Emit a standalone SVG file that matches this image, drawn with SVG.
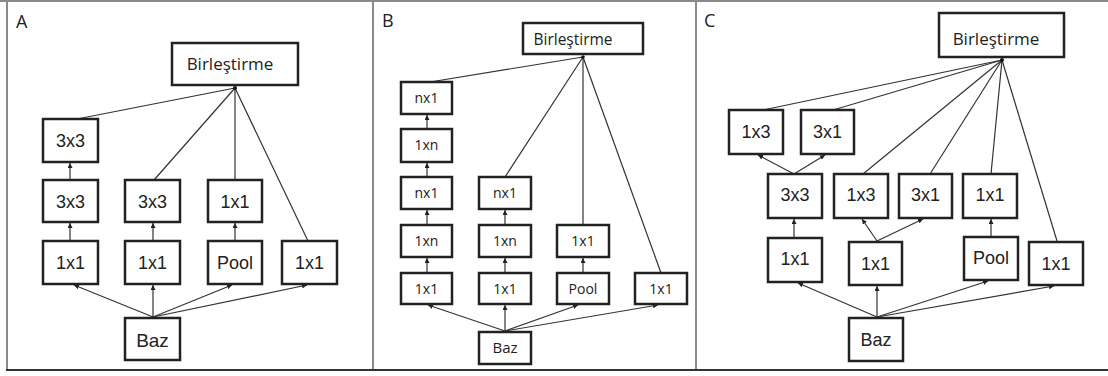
<svg xmlns="http://www.w3.org/2000/svg" width="1108" height="376" viewBox="0 0 1108 376">
<defs>
<marker id="ah" viewBox="0 0 6 6" refX="6" refY="3" markerWidth="5" markerHeight="5" orient="auto" markerUnits="userSpaceOnUse">
<path d="M0,0 L6,3 L0,6 z" fill="#222"/>
</marker>
<style>
.bx{fill:#fff;stroke:#222;stroke-width:2.5}
.fr{stroke:#8a8a8a;stroke-width:2;fill:none}
.c{stroke:#333;stroke-width:1.2;fill:none}
.a{stroke:#333;stroke-width:1.2;fill:none;marker-end:url(#ah)}
.t{font-family:"Liberation Sans",Arial,sans-serif;font-size:18px;fill:#222;text-anchor:middle}
.tb{font-family:"Open Sans","Liberation Sans",sans-serif;font-size:14px;fill:#222;text-anchor:middle}
.h{font-family:"Open Sans","Liberation Sans",sans-serif;font-size:17px;fill:#222;text-anchor:middle}
.hb{font-family:"Open Sans","Liberation Sans",sans-serif;font-size:15.5px;fill:#222;text-anchor:middle}
.lab{font-family:"Open Sans","Liberation Sans",sans-serif;font-size:18px;fill:#222}
</style>
</defs>
<rect width="1108" height="376" fill="#fff"/>
<g id="frame">
<line class="fr" x1="0" y1="1" x2="1108" y2="1"/>
<line class="fr" x1="7" y1="1" x2="7" y2="370"/>
<line class="fr" x1="373" y1="1" x2="373" y2="370"/>
<line class="fr" x1="696" y1="1" x2="696" y2="370"/>
<line x1="6" y1="370" x2="1108" y2="370" stroke="#333" stroke-width="2"/>
</g>
<g id="labels">
<text class="lab" x="16" y="28">A</text>
<text class="lab" x="382" y="27">B</text>
<text class="lab" x="704" y="27">C</text>
</g>
<g id="connectors">
<!-- Panel A -->
<line class="a" x1="153" y1="317" x2="74" y2="285"/>
<line class="a" x1="153" y1="317" x2="153" y2="285"/>
<line class="a" x1="153" y1="317" x2="232" y2="285"/>
<line class="a" x1="153" y1="317" x2="307" y2="285"/>
<line class="a" x1="70" y1="241" x2="70" y2="223"/>
<line class="a" x1="153" y1="241" x2="153" y2="223"/>
<line class="a" x1="235" y1="241" x2="235" y2="223"/>
<line class="a" x1="70" y1="180" x2="70" y2="163"/>
<line class="c" x1="77" y1="119" x2="235" y2="88"/>
<line class="c" x1="154" y1="180" x2="235" y2="88"/>
<line class="c" x1="235" y1="180" x2="235" y2="88"/>
<line class="c" x1="308" y1="241" x2="235" y2="88"/>
<circle cx="235" cy="88" r="2" fill="#111"/>
<!-- Panel B -->
<line class="a" x1="505" y1="331" x2="428" y2="305"/>
<line class="a" x1="505" y1="331" x2="505" y2="305"/>
<line class="a" x1="505" y1="331" x2="578" y2="305"/>
<line class="a" x1="505" y1="331" x2="658" y2="305"/>
<line class="a" x1="427" y1="273" x2="427" y2="258"/>
<line class="a" x1="505" y1="273" x2="505" y2="258"/>
<line class="a" x1="583" y1="273" x2="583" y2="258"/>
<line class="a" x1="427" y1="225" x2="427" y2="210"/>
<line class="a" x1="505" y1="225" x2="505" y2="210"/>
<line class="a" x1="427" y1="177" x2="427" y2="163"/>
<line class="a" x1="427" y1="129" x2="427" y2="115"/>
<line class="c" x1="430" y1="82" x2="583" y2="57"/>
<line class="c" x1="505" y1="177" x2="583" y2="57"/>
<line class="c" x1="583" y1="225" x2="583" y2="57"/>
<line class="c" x1="661" y1="273" x2="583" y2="57"/>
<circle cx="583" cy="57" r="1.8" fill="#111"/>
<!-- Panel C -->
<line class="a" x1="877" y1="317" x2="798" y2="283"/>
<line class="a" x1="877" y1="317" x2="877" y2="286"/>
<line class="a" x1="877" y1="317" x2="988" y2="281"/>
<line class="a" x1="877" y1="317" x2="1054" y2="286"/>
<line class="a" x1="794" y1="238" x2="794" y2="219"/>
<line class="a" x1="991" y1="237" x2="991" y2="219"/>
<line class="a" x1="877" y1="241" x2="862" y2="219"/>
<line class="a" x1="877" y1="241" x2="923" y2="219"/>
<line class="a" x1="794" y1="174" x2="758" y2="155"/>
<line class="a" x1="794" y1="174" x2="825" y2="155"/>
<line class="c" x1="763" y1="110" x2="1002" y2="60"/>
<line class="c" x1="833" y1="110" x2="1002" y2="60"/>
<line class="c" x1="863" y1="174" x2="1002" y2="60"/>
<line class="c" x1="930" y1="174" x2="1002" y2="60"/>
<line class="c" x1="991" y1="174" x2="1002" y2="60"/>
<line class="c" x1="1057" y1="241" x2="1002" y2="60"/>
<circle cx="1002" cy="60" r="2" fill="#111"/>
</g>
<!-- Panel A nodes -->
<g id="A-birlestirme"><rect class="bx" x="172" y="43" width="126" height="42"/><text class="h" x="230" y="70">Birleştirme</text></g>
<g id="A-3x3-top"><rect class="bx" x="43" y="119" width="55" height="43"/><text class="t" x="70.5" y="147">3x3</text></g>
<g id="A-3x3-a"><rect class="bx" x="43" y="180" width="55" height="42"/><text class="t" x="70.5" y="208">3x3</text></g>
<g id="A-3x3-b"><rect class="bx" x="125" y="180" width="55" height="42"/><text class="t" x="152.5" y="208">3x3</text></g>
<g id="A-1x1-c"><rect class="bx" x="208" y="180" width="54" height="42"/><text class="t" x="235" y="208">1x1</text></g>
<g id="A-1x1-a"><rect class="bx" x="43" y="241" width="55" height="43"/><text class="t" x="70.5" y="269">1x1</text></g>
<g id="A-1x1-b"><rect class="bx" x="125" y="241" width="55" height="43"/><text class="t" x="152.5" y="269">1x1</text></g>
<g id="A-pool"><rect class="bx" x="208" y="241" width="54" height="43"/><text class="t" x="235" y="269">Pool</text></g>
<g id="A-1x1-d"><rect class="bx" x="282" y="241" width="55" height="43"/><text class="t" x="309.5" y="269">1x1</text></g>
<g id="A-baz"><rect class="bx" x="125" y="318" width="55" height="42"/><text class="t" x="152.5" y="347" style="font-size:19px">Baz</text></g>
<!-- Panel B nodes -->
<g id="B-birlestirme"><rect class="bx" x="523" y="23" width="120" height="31"/><text class="hb" x="573" y="45">Birleştirme</text></g>
<g id="B-nx1-top"><rect class="bx" x="401" y="82" width="51" height="32"/><text class="tb" x="426.5" y="103">nx1</text></g>
<g id="B-1xn-top"><rect class="bx" x="401" y="129" width="51" height="33"/><text class="tb" x="426.5" y="150">1xn</text></g>
<g id="B-nx1-a"><rect class="bx" x="401" y="177" width="51" height="32"/><text class="tb" x="426.5" y="198">nx1</text></g>
<g id="B-nx1-b"><rect class="bx" x="479" y="177" width="52" height="32"/><text class="tb" x="505" y="198">nx1</text></g>
<g id="B-1xn-a"><rect class="bx" x="401" y="225" width="51" height="32"/><text class="tb" x="426.5" y="246">1xn</text></g>
<g id="B-1xn-b"><rect class="bx" x="479" y="225" width="52" height="32"/><text class="tb" x="505" y="246">1xn</text></g>
<g id="B-1x1-c"><rect class="bx" x="557" y="225" width="52" height="32"/><text class="tb" x="583" y="246">1x1</text></g>
<g id="B-1x1-a"><rect class="bx" x="401" y="273" width="51" height="31"/><text class="tb" x="426.5" y="294">1x1</text></g>
<g id="B-1x1-b"><rect class="bx" x="479" y="273" width="52" height="31"/><text class="tb" x="505" y="294">1x1</text></g>
<g id="B-pool"><rect class="bx" x="557" y="273" width="52" height="31"/><text class="tb" x="583" y="294">Pool</text></g>
<g id="B-1x1-d"><rect class="bx" x="635" y="273" width="52" height="31"/><text class="tb" x="661" y="294">1x1</text></g>
<g id="B-baz"><rect class="bx" x="479" y="332" width="52" height="32"/><text class="tb" x="505" y="353" style="font-size:15px">Baz</text></g>
<!-- Panel C nodes -->
<g id="C-birlestirme"><rect class="bx" x="939" y="13" width="125" height="44"/><text class="h" x="996" y="45">Birleştirme</text></g>
<g id="C-1x3-top"><rect class="bx" x="729" y="110" width="54" height="44"/><text class="t" x="756" y="138">1x3</text></g>
<g id="C-3x1-top"><rect class="bx" x="801" y="110" width="53" height="44"/><text class="t" x="827.5" y="138">3x1</text></g>
<g id="C-3x3"><rect class="bx" x="768" y="174" width="54" height="44"/><text class="t" x="795" y="201">3x3</text></g>
<g id="C-1x3"><rect class="bx" x="834" y="174" width="54" height="44"/><text class="t" x="861" y="201">1x3</text></g>
<g id="C-3x1"><rect class="bx" x="899" y="174" width="53" height="44"/><text class="t" x="925.5" y="201">3x1</text></g>
<g id="C-1x1-top"><rect class="bx" x="963" y="174" width="54" height="44"/><text class="t" x="990" y="201">1x1</text></g>
<g id="C-1x1-a"><rect class="bx" x="768" y="238" width="54" height="44"/><text class="t" x="795" y="265">1x1</text></g>
<g id="C-1x1-b"><rect class="bx" x="849" y="242" width="53" height="43"/><text class="t" x="875.5" y="270">1x1</text></g>
<g id="C-pool"><rect class="bx" x="964" y="237" width="54" height="43"/><text class="t" x="991" y="264">Pool</text></g>
<g id="C-1x1-d"><rect class="bx" x="1029" y="242" width="54" height="43"/><text class="t" x="1056" y="270">1x1</text></g>
<g id="C-baz"><rect class="bx" x="849" y="318" width="54" height="43"/><text class="t" x="876" y="346">Baz</text></g>
</svg>
